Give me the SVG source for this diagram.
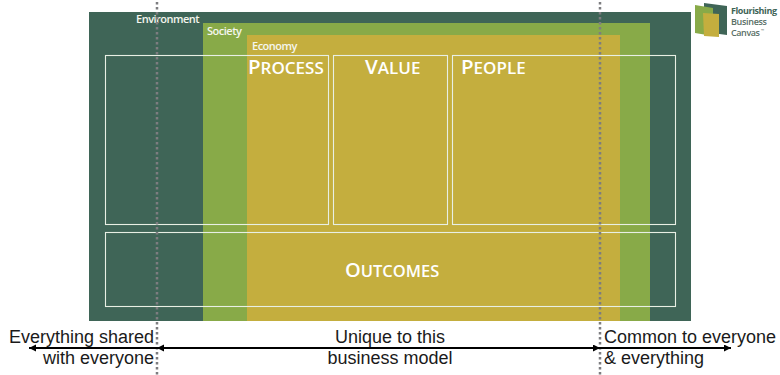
<svg xmlns="http://www.w3.org/2000/svg" width="780" height="375" viewBox="0 0 780 375">
<style>
.box{fill:none;stroke:#e8efe4;stroke-width:1.1}
.h{font-family:"Open Sans","Noto Sans",sans-serif;font-weight:600;fill:#fff}
.s{font-family:"Open Sans","Noto Sans",sans-serif;font-weight:600;fill:#f4f6ee;font-size:11px;letter-spacing:-.5px}
.t{font-family:"Liberation Sans",Arial,sans-serif;font-size:18px;fill:#1a1a1a}
.d{stroke:#7d7d80;stroke-width:2.5;stroke-dasharray:2.5 2.5;fill:none}
.a{stroke:#000;stroke-width:2;fill:none}
.l{font-family:"Open Sans",sans-serif;font-weight:600;font-size:9px;fill:#5a6f66}
</style>
<defs>
<marker id="ah" markerWidth="8" markerHeight="8" refX="7" refY="3.5" orient="auto-start-reverse" markerUnits="userSpaceOnUse"><path d="M0 0L7 3.5L0 7Z" fill="#000"/></marker>
</defs>
<g id="environment"><rect x="89" y="12" width="602" height="309" fill="#3f6557"/><text class="s" x="136" y="23">Environment</text></g>
<g id="society"><rect x="203" y="23" width="447" height="298" fill="#88aa48"/><text class="s" x="207" y="35">Society</text></g>
<g id="economy"><rect x="247" y="35" width="373" height="286" fill="#c4ae3e"/><text class="s" x="252" y="50">Economy</text></g>
<g id="process"><rect class="box" x="105.500" y="55.500" width="223" height="169"/><text class="h" x="248" y="74" font-size="20.500">P<tspan font-size="17">ROCESS</tspan></text></g>
<g id="value"><rect class="box" x="333.500" y="55.500" width="114" height="169"/><text class="h" x="365" y="74" font-size="20.500">V<tspan font-size="17">ALUE</tspan></text></g>
<g id="people"><rect class="box" x="452.500" y="55.500" width="223" height="169"/><text class="h" x="461" y="74" font-size="20.500">P<tspan font-size="17">EOPLE</tspan></text></g>
<g id="outcomes"><rect class="box" x="105.500" y="232.500" width="570" height="74"/><text class="h" x="345" y="277" font-size="20">O<tspan font-size="16.500">UTCOMES</tspan></text></g>
<g id="connectors">
<path class="d" d="M157 2V375"/><path class="d" d="M600 2V375"/>
<path class="a" d="M157 348H29" marker-end="url(#ah)"/>
<path class="a" d="M157 348H600" marker-start="url(#ah)" marker-end="url(#ah)"/>
<path class="a" d="M600 348H731" marker-end="url(#ah)"/>
</g>
<g id="label-left"><text class="t" x="154" y="343" text-anchor="end">Everything shared</text><text class="t" x="154" y="364" text-anchor="end">with everyone</text></g>
<g id="label-mid"><text class="t" x="390" y="343" text-anchor="middle">Unique to this</text><text class="t" x="390" y="364" text-anchor="middle">business model</text></g>
<g id="label-right"><text class="t" x="604" y="343">Common to everyone</text><text class="t" x="604" y="364">&amp; everything</text></g>
<g id="logo">
<path d="M704 3L727 6V35L704 32Z" fill="#3f6557"/>
<path d="M695 5L713 8V36L695 33Z" fill="#88aa48"/>
<path d="M703 13L719 14V37L704 36Z" fill="#c4ae3e"/>
<text class="l" x="731" y="14" textLength="46" lengthAdjust="spacing" style="fill:#3f6557;font-weight:700">Flourishing</text>
<text class="l" x="731" y="25" textLength="36" lengthAdjust="spacing">Business</text>
<text class="l" x="731" y="36" textLength="29" lengthAdjust="spacing">Canvas</text>
<text x="761" y="32" font-family="'Open Sans',sans-serif" font-size="4" fill="#5a6f66">™</text>
</g>
</svg>
